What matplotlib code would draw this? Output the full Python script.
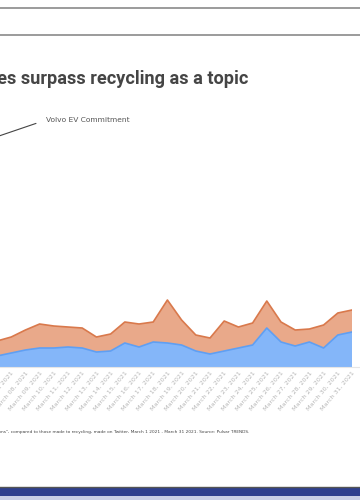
import numpy as np
import pandas as pd
import matplotlib.pyplot as plt
from matplotlib.lines import Line2D
from matplotlib.patches import Rectangle

# dados diários, março de 2021 (menções, estimadas do gráfico)
days = list(range(1, 32))
ev = [150, 1200, 400, 200, 140, 110, 140, 170, 190, 190, 200, 190, 150, 160, 240, 200,
      250, 240, 220, 160, 130, 160, 190, 220, 390, 250, 210, 250, 190, 320, 350]
recycling = [180, 850, 300, 200, 160, 150, 160, 200, 240, 220, 200, 200, 150, 170, 210, 230,
             200, 430, 250, 160, 160, 300, 210, 220, 270, 200, 160, 130, 230, 220, 220]
tick_labels = [d.strftime('%B %d, %Y') for d in pd.date_range('2021-03-01', '2021-03-31')]

ev = np.array(ev)
total = ev + np.array(recycling)

fig = plt.figure(figsize=(3.6, 5), dpi=100)
W, H = 360, 500

# eixo passa da borda esquerda (imagem recortada)
x0px, x1px, y0px, y1px = -74, 352, 367, 100
ax = fig.add_axes([x0px / W, (H - y0px) / H, (x1px - x0px) / W, (y0px - y1px) / H])
ax.set_xlim(1, 31)
ax.set_ylim(0, 2670)

ax.fill_between(days, 0, ev, color='#84b6f9', lw=0)
ax.fill_between(days, ev, total, color='#e9a98a', lw=0)
ax.plot(days, ev, color='#5f9ff3', lw=1.2)
ax.plot(days, total, color='#d9794c', lw=1.2)
ax.axhline(0, color='#e6e6e6', lw=0.8, xmax=1.02, clip_on=False)

for s in ax.spines.values():
    s.set_visible(False)
ax.set_yticks([])
ax.set_xticks(days)
ax.set_xticklabels(tick_labels, rotation=50, ha='right', va='top', rotation_mode='anchor',
                   fontsize=4.6, color='#b8b8b8')
ax.tick_params(axis='x', length=0, pad=2)
ax.patch.set_alpha(0)

# anotação
ax.annotate('Volvo EV Commitment', xy=(2, total[1] + 60), xytext=(46, H - 120),
            textcoords='figure pixels', va='center', ha='left', fontsize=5.4, color='#555555',
            arrowprops=dict(arrowstyle='-', color='#444444', lw=0.8, relpos=(0, 0.5),
                            shrinkA=5.5, shrinkB=0))

# título e nota
fig.text(248 / W, 1 - 79 / H, 'Electric vehicles surpass recycling as a topic', ha='right',
         va='center', fontsize=13.1, fontweight='semibold', color='#454545', family='Roboto')
fig.text(249 / W, 1 - 432 / H,
         'Volume of mentions of "electric vehicles" and "EV transitions", compared to those made '
         'to recycling, made on Twitter, March 1 2021 - March 31 2021. Source: Pulsar TRENDS.',
         ha='right', va='center', fontsize=3.1, color='#444444')

# moldura do slide
for y in (8, 35):
    fig.add_artist(Line2D([0, 1], [1 - y / H, 1 - y / H], color='#8a8a8a', lw=1.2))
fig.add_artist(Line2D([0, 1], [1 - 487 / H, 1 - 487 / H], color='#555555', lw=1.0))
fig.add_artist(Rectangle((0, 1 - 496 / H), 1, 8 / H, color='#2f3f8e', lw=0))
fig.add_artist(Rectangle((0, 0), 1, 4 / H, color='#c9cfe6', lw=0))

fig.savefig('out.png', dpi=100)
